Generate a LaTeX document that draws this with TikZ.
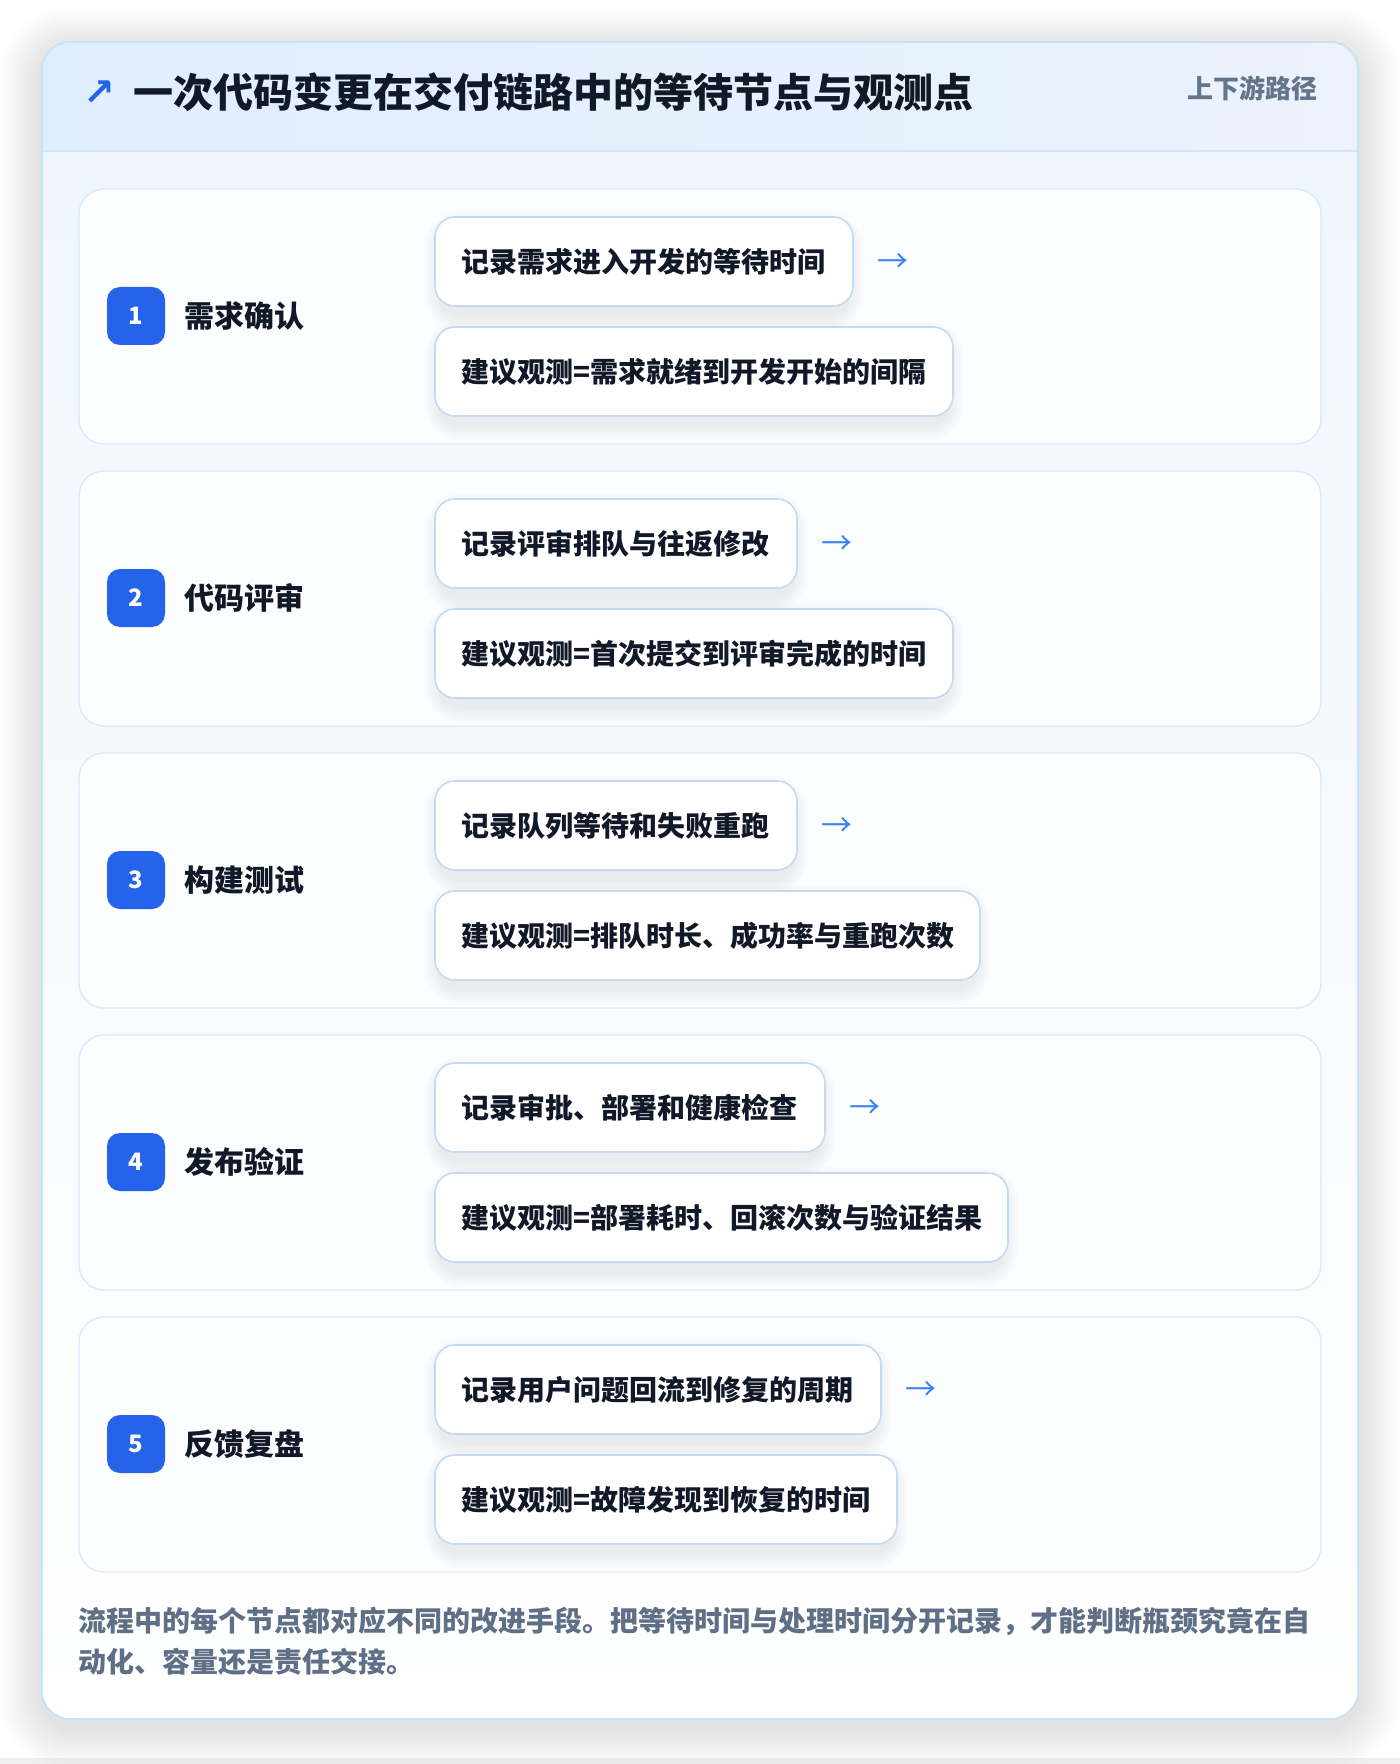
\documentclass[tikz,border=0pt]{standalone}
\usepackage{fontspec}
\setmainfont{Noto Sans CJK SC}
\newfontfamily\dejavu{DejaVu Sans}
\definecolor{cardborder}{HTML}{C3E3F6}
\definecolor{headL}{HTML}{DFEEFD}
\definecolor{headR}{HTML}{ECF2FE}
\definecolor{headline}{HTML}{D5E5F8}
\definecolor{bodytop}{HTML}{EFF6FE}
\definecolor{panelborder}{HTML}{DCE9FA}
\definecolor{panelfill}{HTML}{FCFDFF}
\definecolor{boxborder}{HTML}{C2DAF5}
\definecolor{badgeblue}{HTML}{2563EB}
\definecolor{arrowblue}{HTML}{3B82F6}
\definecolor{ink}{HTML}{111827}
\definecolor{muted}{HTML}{64748B}
\definecolor{footgray}{HTML}{5F6F86}
\newcommand{\pxsize}[1]{\fontsize{#1}{#1}\selectfont}
% soft shadow: x1 y1 x2 y2 (px), radius pt, steps, spread px per step, y offset px, opacity per step
\newcommand{\softshadow}[9]{%
  \foreach \k in {1,...,#6}{%
    \fill[black, opacity=#9, rounded corners={#5pt+\k*#7*0.5pt}]
      (#1-\k*#7, #2-\k*#7+#8) rectangle (#3+\k*#7, #4+\k*#7+#8);
  }}
\begin{document}
\begin{tikzpicture}[x=0.5pt,y=-0.5pt,
  cardbox/.style={draw=cardborder, line width=0.8pt, fill=white, rounded corners=14pt,
    minimum width=658pt, minimum height=838.5pt, inner sep=0pt, outer sep=0pt},
  panelbox/.style={draw=panelborder, line width=0.7pt, fill=panelfill, rounded corners=12.5pt,
    minimum width=621pt, minimum height=127.5pt, inner sep=0pt, outer sep=0pt, anchor=north west},
  badge/.style={fill=badgeblue, rounded corners=6.5pt, minimum size=29pt, inner sep=0pt,
    text=white, font=\pxsize{12pt}\bfseries},
  steplabel/.style={anchor=west, inner sep=0pt, text=ink, font=\pxsize{15pt}\bfseries},
  obsbox/.style={draw=boxborder, line width=0.8pt, fill=white, rounded corners=10pt,
    minimum height=44.5pt, inner xsep=13pt, inner ysep=0pt, outer sep=0pt, align=left,
    anchor=north west, text=ink, font=\pxsize{14pt}\bfseries},
  flowarrow/.style={inner sep=0pt, text=arrowblue, font=\pxsize{15.5pt}},
  foottext/.style={anchor=west, inner sep=0pt, text=footgray, font=\pxsize{14pt}\bfseries},
]
\useasboundingbox (0,0) rectangle (1400,1764);
\fill[white] (0,0) rectangle (1400,1764);
\fill[black!6] (0,1758) rectangle (1400,1764);

% card shadow and card
\softshadow{42}{42}{1358}{1719}{14}{14}{3}{8}{0.007}
\node[cardbox, anchor=north west] (card) at (42,42) {};
\begin{scope}
  \clip[rounded corners=14pt] (42,42) rectangle (1358,1719);
  \shade[top color=bodytop, bottom color=white] (42,151) rectangle (1358,1719);
  \shade[left color=headL, right color=headR] (42,42) rectangle (1358,151);
  \draw[headline, line width=1pt] (42,151) -- (1358,151);
\end{scope}
\draw[cardborder, line width=0.8pt, rounded corners=14pt] (42,42) rectangle (1358,1719);

% title
\node[inner sep=0pt, text=badgeblue, font=\dejavu\pxsize{19pt}\bfseries] (tarrow) at (99,93) {↗};
\node[anchor=west, inner sep=0pt, text=ink, font=\pxsize{20pt}\bfseries] (title) at (133,92) {一次代码变更在交付链路中的等待节点与观测点};
\node[anchor=east, inner sep=0pt, text=muted, font=\pxsize{13pt}\bfseries] (tag) at (1318,88) {上下游路径};

% panels
\foreach \i/\lab/\ta/\ra/\tb/\rb in {
  1/需求确认/记录需求进入开发的等待时间/853/建议观测=需求就绪到开发开始的间隔/953,
  2/代码评审/记录评审排队与往返修改/797/建议观测=首次提交到评审完成的时间/953,
  3/构建测试/记录队列等待和失败重跑/797/建议观测=排队时长、成功率与重跑次数/980,
  4/发布验证/记录审批、部署和健康检查/825/建议观测=部署耗时、回滚次数与验证结果/1008,
  5/反馈复盘/记录用户问题回流到修复的周期/881/建议观测=故障发现到恢复的时间/897} {
  \pgfmathsetmacro\ptop{189+282*(\i-1)}
  \pgfmathsetmacro\wa{(\ra-435)*0.5-26}
  \pgfmathsetmacro\wb{(\rb-435)*0.5-26}
  \pgfmathsetmacro\ya{\ptop+28}
  \pgfmathsetmacro\yb{\ptop+117}
  \pgfmathsetmacro\yc{\ptop+138}
  \pgfmathsetmacro\yd{\ptop+227}
  \node[panelbox] (p\i) at (79,\ptop) {};
  \node[badge] (b\i) at (136,\ptop+127) {\i};
  \node[steplabel] (l\i) at (184,\ptop+127) {\lab};
  \softshadow{440}{\ya}{\ra-5}{\yb}{10}{6}{2.5}{9}{0.011}
  \softshadow{440}{\yc}{\rb-5}{\yd}{10}{6}{2.5}{9}{0.011}
  \node[obsbox, text width=\wa pt] (a\i) at (435,\ya) {\ta};
  \node[flowarrow] (r\i) at (\ra+40,\ptop+74) {→};
  \node[obsbox, text width=\wb pt] (c\i) at (435,\yc) {\tb};
}

% footer
\node[foottext] (foot1) at (78,1621) {流程中的每个节点都对应不同的改进手段。把等待时间与处理时间分开记录，才能判断瓶颈究竟在自};
\node[foottext] (foot2) at (78,1662) {动化、容量还是责任交接。};
\end{tikzpicture}
\end{document}
